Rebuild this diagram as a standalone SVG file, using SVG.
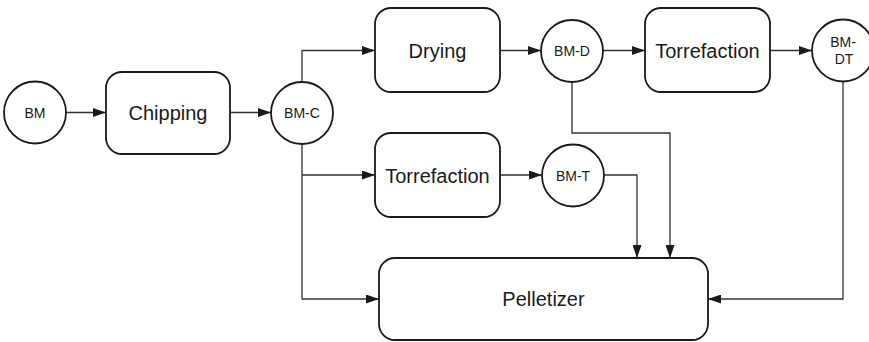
<svg xmlns="http://www.w3.org/2000/svg" width="869" height="342" viewBox="0 0 869 342">
<style>
  .box{fill:#fff;stroke:#1a1a1a;stroke-width:1.8}
  .big{font-family:"Liberation Sans",Arial,sans-serif;font-size:20px;fill:#1a1a1a;text-anchor:middle}
  .small{font-family:"Liberation Sans",Arial,sans-serif;font-size:14px;fill:#1a1a1a;text-anchor:middle}
  .edge{fill:none;stroke:#333;stroke-width:1.3;marker-end:url(#arr)}
  .line{fill:none;stroke:#333;stroke-width:1.3}
</style>
<defs>
  <marker id="arr" viewBox="0 0 13 9" refX="13" refY="4.5" markerWidth="13" markerHeight="9" markerUnits="userSpaceOnUse" orient="auto">
    <path d="M0,0 L13,4.5 L0,9 z" fill="#1a1a1a"/>
  </marker>
</defs>
<rect width="869" height="342" fill="#fff"/>
<g id="connectors">
  <path class="edge" d="M66,112.5 H106"/>
  <path class="edge" d="M230,112.5 H271"/>
  <path class="edge" d="M302,82 V50.5 H375"/>
  <path class="edge" d="M302,144 V299 H379"/>
  <path class="edge" d="M302,175 H375"/>
  <path class="edge" d="M500,50.5 H541"/>
  <path class="edge" d="M500,175 H542"/>
  <path class="edge" d="M603,50.5 H645"/>
  <path class="edge" d="M770,50.5 H812"/>
  <path class="edge" d="M572,82 V133 H670 V258"/>
  <path class="edge" d="M604,175 H637 V258"/>
  <path class="edge" d="M843,81 V299 H708"/>
</g>
<g id="bm"><circle class="box" cx="35" cy="112.5" r="31"/><text class="small" x="35" y="117.5">BM</text></g>
<g id="chipping"><rect class="box" x="106" y="72" width="124" height="82" rx="16"/><text class="big" x="168" y="120">Chipping</text></g>
<g id="bm-c"><circle class="box" cx="302" cy="113" r="31"/><text class="small" x="302" y="118">BM-C</text></g>
<g id="drying"><rect class="box" x="375" y="8" width="125" height="84" rx="16"/><text class="big" x="437.5" y="58">Drying</text></g>
<g id="torrefaction-low"><rect class="box" x="375" y="133" width="125" height="84" rx="16"/><text class="big" x="437.5" y="182.5">Torrefaction</text></g>
<g id="bm-d"><circle class="box" cx="572" cy="51" r="31"/><text class="small" x="572" y="56">BM-D</text></g>
<g id="bm-t"><circle class="box" cx="573" cy="175.5" r="31"/><text class="small" x="573" y="180.5">BM-T</text></g>
<g id="torrefaction-top"><rect class="box" x="645" y="8" width="125" height="84" rx="16"/><text class="big" x="707.5" y="58">Torrefaction</text></g>
<g id="bm-dt"><circle class="box" cx="843" cy="50.5" r="31"/><text class="small" x="843" y="47">BM-</text><text class="small" x="844" y="64">DT</text></g>
<g id="pelletizer"><rect class="box" x="379" y="258" width="329" height="82" rx="16"/><text class="big" x="543.5" y="306">Pelletizer</text></g>
</svg>
